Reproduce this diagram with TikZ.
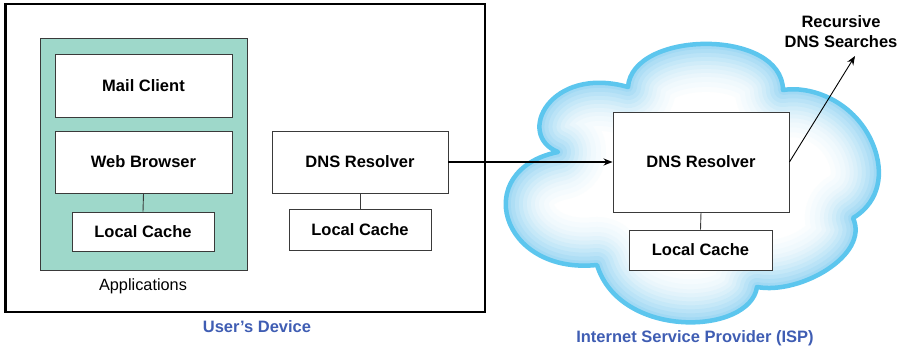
\documentclass[tikz,border=0pt]{standalone}
\usepackage{fontspec}
\setmainfont{Liberation Sans}
\usetikzlibrary{arrows.meta}

\definecolor{appgreen}{HTML}{9ED8CA}
\definecolor{labelblue}{HTML}{3F5DB3}
\definecolor{cloudedge}{HTML}{5CC6EE}
\definecolor{cloudfill}{HTML}{94D4F2}
\definecolor{boxline}{HTML}{3A3A3A}

\tikzset{
  box/.style={draw=boxline, line width=0.9pt, fill=white, font=\bfseries\fontsize{16.5}{18}\selectfont,
              inner sep=0pt, anchor=center},
  link/.style={draw=boxline, line width=0.9pt},
  caption/.style={font=\bfseries\fontsize{16.5}{18}\selectfont, text=labelblue, inner sep=0pt},
  plain/.style={font=\fontsize{16.3}{18}\selectfont, inner sep=0pt},
  flow/.style={line width=1.8pt, -{Stealth[length=9pt,width=7pt]}},
  thinflow/.style={line width=0.9pt, -{Stealth[length=9pt,width=7pt]}},
}

% outline of the ISP cloud
\def\cloudpath{
  (628,87) .. controls (632,30) and (782,28) .. (783,90)
  .. controls (815,85) and (860,105) .. (875,150)
  .. controls (885,180) and (875,205) .. (853,218)
  .. controls (870,255) and (800,295) .. (757,287)
  .. controls (750,335) and (620,340) .. (597,265)
  .. controls (500,275) and (470,170) .. (558,152)
  .. controls (515,135) and (550,65) .. (628,87) -- cycle
}

\begin{document}
\begin{tikzpicture}[x=1pt,y=-1pt]
\useasboundingbox (0,0) rectangle (902,351);

% ---------- user's device ----------
\draw[line width=2.6pt, line join=miter] (5.5,4) rectangle (485,312);
\fill[appgreen] (40,38) rectangle (247,270);
\draw[boxline, line width=0.9pt] (40,38) rectangle (247,270);

\node[box, minimum width=177pt, minimum height=63pt] (mail) at (143.5,85.5) {Mail Client};
\node[box, minimum width=177pt, minimum height=62pt] (web) at (143.5,162) {Web Browser};
\node[box, minimum width=142pt, minimum height=39pt] (appcache) at (143,231.5) {Local Cache};
\draw[link] (web.south) -- (appcache.north);
\node[plain] (apps) at (143,286) {Applications};

\node[box, minimum width=176pt, minimum height=62pt] (devres) at (360,162) {DNS Resolver};
\node[box, minimum width=142pt, minimum height=41pt] (devcache) at (360,229.5) {Local Cache};
\draw[link] (devres.south) -- (devcache.north);

\node[caption] (devlabel) at (257,327) {User’s Device};

% ---------- ISP cloud with a soft inner glow ----------
\begin{scope}
  \clip \cloudpath;
  \fill[white] (490,20) rectangle (900,345);
  \foreach \w/\k in {96/5,86/9,76/14,66/20,58/27,50/35,42/44,34/54,26/64,18/76,10/88,4/100}{
    \draw[cloudfill!\k!white, line width=\w pt, line join=round] \cloudpath;
  }
\end{scope}
\draw[cloudedge, line width=4.5pt, line join=round] \cloudpath;

\node[box, minimum width=176pt, minimum height=100pt] (ispres) at (701,162) {DNS Resolver};
\node[box, minimum width=143pt, minimum height=40pt] (ispcache) at (700.5,250) {Local Cache};
\draw[link] (ispres.south) -- (ispcache.north);

\node[caption] (isplabel) at (695,338.5) {Internet Service Provider (ISP)};

% ---------- flows ----------
\draw[flow] (devres.east) -- (ispres.west);

\node[font=\bfseries\fontsize{16.5}{20}\selectfont, align=center, inner sep=0pt] (rec) at (841,32)
  {Recursive\\DNS Searches};
\coordinate (recend) at (855,56);
\draw[thinflow] (ispres.east) -- (recend);
\end{tikzpicture}
\end{document}
